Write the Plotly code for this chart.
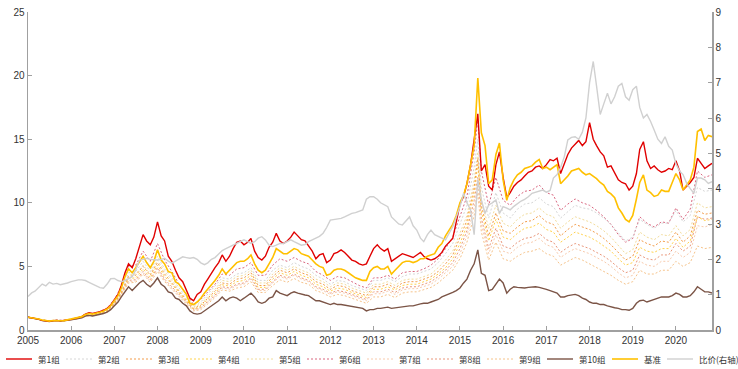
import pandas as pd
import plotly.graph_objects as go

# ---------------- data ----------------
months = pd.date_range("2005-01-01", "2020-11-01", freq="MS")          # 191 monthly points
dot_dates = sorted(list(pd.date_range("2005-01-01", "2020-11-01", freq="2MS")) + [pd.Timestamp("2015-06-01")])  # 97 points

g1 = [1.00, 0.97, 0.90, 0.86, 0.76, 0.72, 0.68, 0.74, 0.76, 0.72, 0.74, 0.80,
      0.84, 0.90, 0.95, 1.05, 1.25, 1.35, 1.30, 1.35, 1.45, 1.55, 1.70, 1.95,
      2.40, 2.80, 3.50, 4.50, 5.20, 4.90, 5.60, 6.60, 7.50, 7.00, 6.70, 7.30,
      8.50, 7.40, 7.00, 5.80, 5.40, 4.70, 4.10, 3.80, 3.20, 2.50, 2.30, 2.80,
      3.0, 3.6, 4.0, 4.5, 4.9, 5.3, 5.9, 5.4, 5.8, 6.4, 6.9, 7.0,
      6.7, 6.9, 7.2, 6.2, 5.7, 5.5, 5.8, 6.5, 6.9, 7.6, 7.0, 6.8,
      7.0, 7.3, 7.7, 7.4, 7.1, 7.0, 6.6, 6.2, 5.6, 5.9, 6.0, 5.3,
      5.5, 6.0, 6.1, 6.3, 6.1, 5.8, 5.5, 5.4, 5.2, 5.1, 5.2, 5.8,
      6.4, 6.7, 6.4, 6.2, 6.4, 5.4, 5.6, 5.8, 6.0, 5.9, 5.8, 5.7,
      5.9, 6.1, 5.8, 5.6, 5.5, 5.6, 5.8, 6.1, 6.6, 6.9, 7.2, 8.5,
      9.9, 10.5, 11.5, 13.0, 15.0, 17.0, 12.5, 13.0, 11.3, 11.0, 13.0, 14.0,
      12.0, 10.4, 10.8, 11.3, 11.6, 11.8, 12.1, 12.4, 12.5, 12.8, 12.9, 12.7,
      13.0, 13.4, 13.3, 13.5, 12.3, 13.0, 13.8, 14.3, 14.6, 14.9, 14.5, 14.8,
      16.3, 15.0, 14.5, 14.0, 13.7, 12.8, 12.9, 12.4, 11.8, 11.6, 11.5, 11.0,
      11.3, 12.3, 14.2, 14.8, 13.3, 12.7, 12.9, 12.6, 12.4, 12.5, 12.7, 12.6,
      13.3, 12.5, 11.0, 11.3, 11.6, 12.0, 13.5, 13.1, 12.7, 12.9, 13.1]

bench = [1.00, 0.97, 0.92, 0.87, 0.78, 0.74, 0.70, 0.75, 0.77, 0.73, 0.74, 0.80,
         0.85, 0.90, 0.95, 1.05, 1.22, 1.30, 1.25, 1.30, 1.40, 1.50, 1.65, 1.90,
         2.30, 2.70, 3.30, 4.20, 4.80, 4.50, 4.90, 5.40, 5.80, 5.30, 4.90, 5.40,
         6.30, 5.50, 5.20, 4.60, 4.50, 3.80, 3.60, 3.20, 2.80, 2.10, 2.00, 2.20,
         2.5, 2.9, 3.2, 3.5, 3.9, 4.3, 4.8, 4.4, 4.7, 5.0, 5.3, 5.4,
         5.4, 5.6, 5.9, 5.2, 4.7, 4.5, 4.7, 5.2, 5.7, 6.4, 6.2, 6.0,
         6.0, 6.2, 6.4, 6.3, 6.0, 5.9, 5.8, 5.5, 5.2, 5.0, 4.9, 4.3,
         4.4, 4.7, 4.8, 4.8, 4.7, 4.5, 4.3, 4.1, 4.0, 3.9, 3.9, 4.6,
         4.9, 5.0, 4.8, 4.8, 5.0, 4.4, 4.7, 5.0, 5.3, 5.4, 5.4, 5.3,
         5.4, 5.6, 5.6, 5.8, 5.9, 6.0, 6.5, 6.8, 7.4, 7.8, 8.3, 9.0,
         10.0, 10.6, 11.5, 13.0, 14.5, 19.8, 15.5, 14.5, 11.5, 11.8, 13.8, 14.7,
         11.8, 10.2, 11.2, 11.8, 12.2, 12.4, 12.7, 12.8, 12.9, 13.2, 13.4, 12.7,
         12.8, 12.6, 12.8, 13.0, 11.5, 11.8, 12.1, 12.5, 12.6, 12.7, 12.4, 12.2,
         12.3, 12.1, 11.9, 11.6, 11.4, 10.9, 10.7, 10.4, 9.6, 9.2, 8.7, 8.5,
         9.0, 10.3, 11.6, 12.2, 11.0, 10.8, 10.5, 10.6, 11.0, 10.9, 10.9, 11.6,
         12.3, 11.8, 11.0, 11.4, 11.8, 12.8, 15.6, 15.8, 14.9, 15.3, 15.2]

g10 = [1.00, 0.96, 0.90, 0.84, 0.74, 0.70, 0.66, 0.72, 0.74, 0.70, 0.71, 0.76,
       0.80, 0.85, 0.88, 0.96, 1.10, 1.15, 1.10, 1.15, 1.22, 1.30, 1.40, 1.60,
       1.90, 2.20, 2.60, 3.00, 3.40, 3.10, 3.40, 3.70, 3.90, 3.60, 3.40, 3.70,
       4.10, 3.60, 3.40, 3.00, 2.90, 2.50, 2.40, 2.10, 1.90, 1.50, 1.30, 1.25,
       1.3, 1.5, 1.7, 1.9, 2.1, 2.3, 2.6, 2.3, 2.5, 2.6, 2.5, 2.3,
       2.5, 2.7, 2.9, 2.6, 2.2, 2.1, 2.2, 2.5, 2.6, 3.1, 2.9, 2.8,
       2.7, 2.9, 3.0, 2.9, 2.8, 2.75, 2.7, 2.5, 2.3, 2.3, 2.2, 2.1,
       2.0, 2.1, 2.0, 2.0, 1.95, 1.85, 1.8, 1.75, 1.7, 1.7, 1.5, 1.6,
       1.6, 1.7, 1.7, 1.75, 1.8, 1.7, 1.75, 1.8, 1.85, 1.85, 1.9, 1.9,
       2.0, 2.05, 2.1, 2.1, 2.2, 2.3, 2.4, 2.6, 2.7, 2.8, 2.95, 3.1,
       3.3, 3.7, 4.0, 4.7, 5.2, 6.3, 4.45, 4.3, 3.1, 3.2, 3.6, 4.0,
       3.7, 2.9, 3.2, 3.4, 3.35, 3.3, 3.3, 3.35, 3.4, 3.4, 3.35, 3.3,
       3.2, 3.1, 3.0, 2.9, 2.6, 2.6, 2.7, 2.75, 2.8, 2.7, 2.5, 2.4,
       2.2, 2.1, 2.1, 2.0, 2.0, 1.9, 1.8, 1.75, 1.7, 1.6, 1.6, 1.55,
       1.7, 2.1, 2.3, 2.35, 2.2, 2.3, 2.4, 2.5, 2.6, 2.6, 2.6, 2.7,
       2.9, 2.8, 2.6, 2.6, 2.7, 3.0, 3.4, 3.2, 3.0, 3.0, 2.9]

ratio = [0.95, 1.05, 1.10, 1.20, 1.30, 1.25, 1.35, 1.30, 1.32, 1.28, 1.30, 1.33,
         1.37, 1.40, 1.42, 1.42, 1.40, 1.35, 1.30, 1.25, 1.20, 1.18, 1.30, 1.45,
         1.46, 1.40, 1.37, 1.40, 1.45, 1.51, 1.70, 1.98, 2.00, 2.03, 2.00, 1.98,
         1.98, 2.00, 2.03, 1.95, 1.89, 1.95, 2.00, 2.07, 2.05, 2.03, 2.05, 2.00,
         1.90, 1.85, 1.90, 2.00, 2.05, 2.15, 2.25, 2.30, 2.35, 2.40, 2.45, 2.50,
         2.55, 2.50, 2.45, 2.50, 2.60, 2.64, 2.55, 2.40, 2.36, 2.40, 2.45, 2.45,
         2.50, 2.55, 2.50, 2.45, 2.40, 2.42, 2.50, 2.55, 2.60, 2.65, 2.74, 2.90,
         3.11, 3.12, 3.15, 3.16, 3.20, 3.25, 3.30, 3.32, 3.35, 3.40, 3.70, 3.77,
         3.77, 3.70, 3.60, 3.55, 3.49, 3.20, 3.11, 3.00, 2.97, 3.10, 3.20, 2.95,
         2.83, 2.60, 2.50, 2.70, 2.83, 2.70, 2.64, 2.60, 2.55, 2.75, 2.92, 3.20,
         3.49, 3.87, 3.60, 3.40, 2.70, 4.25, 3.68, 3.30, 3.54, 3.60, 3.68, 3.30,
         3.49, 3.45, 3.40, 3.50, 3.58, 3.65, 3.70, 3.77, 3.87, 3.90, 3.93, 3.96,
         3.90, 3.95, 4.30, 4.40, 4.60, 4.90, 5.38, 5.45, 5.47, 5.40, 5.60, 6.00,
         7.00, 7.60, 6.90, 6.10, 6.40, 6.70, 6.40, 6.60, 6.90, 6.98, 6.60, 6.50,
         6.80, 6.90, 6.30, 6.00, 6.10, 5.90, 5.66, 5.40, 5.28, 5.47, 5.20, 5.09,
         4.70, 4.50, 4.40, 4.15, 4.00, 3.87, 4.30, 4.30, 4.25, 4.15, 4.20]

# dotted groups (bimonthly, plus June 2015)
g2 = [1.00, 0.93, 0.79, 0.71, 0.78, 0.75,
      0.85, 0.95, 1.20, 1.22, 1.36, 1.60,
      2.20, 3.10, 4.50, 4.60, 5.40, 4.60,
      5.80, 4.80, 4.10, 3.30, 2.60, 1.90,
      2.20, 2.80, 3.40, 4.10, 4.00, 4.40,
      4.50, 4.90, 3.90, 3.90, 4.70, 5.10,
      4.90, 5.30, 5.00, 4.80, 4.30, 4.00,
      3.60, 3.90, 3.80, 3.50, 3.30, 3.10,
      3.90, 3.90, 4.10, 3.80, 4.20, 4.40,
      4.40, 4.60, 4.80, 5.30, 6.00, 6.80,
      8.40, 9.80, 12.80, 15.00, 11.20, 8.80, 10.80,
      9.20, 8.80, 9.50, 9.90, 10.00, 10.40,
      9.90, 9.70, 8.80, 9.30, 9.80, 9.60,
      9.50, 9.20, 8.80, 8.30, 7.60, 7.00,
      7.30, 8.70, 8.30, 8.00, 8.40, 8.40,
      9.40, 8.50, 9.00, 11.20, 10.90, 11.00]

g3 = [1.00, 0.91, 0.77, 0.69, 0.76, 0.73,
      0.83, 0.92, 1.15, 1.17, 1.30, 1.52,
      2.10, 2.95, 4.20, 4.30, 5.00, 4.30,
      5.30, 4.40, 3.70, 3.00, 2.35, 1.70,
      1.95, 2.50, 3.05, 3.70, 3.60, 4.00,
      4.10, 4.50, 3.50, 3.50, 4.20, 4.70,
      4.50, 4.80, 4.50, 4.30, 3.80, 3.60,
      3.20, 3.50, 3.40, 3.10, 2.90, 2.70,
      3.40, 3.40, 3.60, 3.30, 3.70, 3.80,
      3.80, 4.00, 4.20, 4.60, 5.20, 5.90,
      7.20, 8.60, 11.20, 13.50, 9.80, 7.40, 9.20,
      7.80, 7.60, 8.10, 8.50, 8.60, 9.00,
      8.50, 8.30, 7.40, 7.90, 8.30, 8.10,
      7.90, 7.60, 7.20, 6.70, 6.10, 5.50,
      5.80, 7.10, 6.80, 6.60, 7.00, 6.90,
      7.70, 6.90, 7.40, 9.40, 9.10, 9.20]

g4 = [1.00, 0.91, 0.77, 0.69, 0.76, 0.73,
      0.82, 0.91, 1.14, 1.15, 1.28, 1.50,
      2.05, 2.90, 4.05, 4.10, 4.80, 4.10,
      5.10, 4.20, 3.60, 2.90, 2.25, 1.65,
      1.85, 2.40, 2.90, 3.55, 3.45, 3.80,
      3.90, 4.30, 3.35, 3.35, 4.00, 4.50,
      4.30, 4.60, 4.30, 4.10, 3.60, 3.40,
      3.05, 3.30, 3.20, 2.95, 2.75, 2.55,
      3.20, 3.20, 3.40, 3.15, 3.50, 3.60,
      3.60, 3.80, 4.00, 4.40, 4.90, 5.60,
      6.80, 8.20, 10.80, 13.00, 9.30, 7.00, 8.70,
      7.30, 7.10, 7.60, 8.00, 8.10, 8.40,
      7.90, 7.70, 6.90, 7.30, 7.70, 7.50,
      7.30, 7.00, 6.60, 6.20, 5.60, 5.10,
      5.30, 6.50, 6.20, 6.10, 6.40, 6.40,
      7.20, 6.50, 7.00, 8.90, 8.60, 8.70]

g5 = [1.00, 0.92, 0.78, 0.70, 0.77, 0.74,
      0.84, 0.93, 1.17, 1.19, 1.32, 1.55,
      2.15, 3.00, 4.30, 4.40, 5.10, 4.40,
      5.50, 4.60, 3.90, 3.10, 2.45, 1.80,
      2.05, 2.60, 3.20, 3.90, 3.80, 4.20,
      4.30, 4.70, 3.70, 3.70, 4.40, 4.90,
      4.70, 5.00, 4.70, 4.50, 4.00, 3.80,
      3.40, 3.70, 3.60, 3.30, 3.10, 2.90,
      3.60, 3.60, 3.80, 3.50, 3.90, 4.00,
      4.00, 4.20, 4.40, 4.90, 5.50, 6.20,
      7.60, 9.00, 11.80, 14.00, 10.20, 8.00, 9.80,
      8.40, 8.10, 8.70, 9.10, 9.20, 9.60,
      9.10, 8.90, 8.00, 8.50, 8.90, 8.70,
      8.50, 8.20, 7.80, 7.30, 6.60, 6.00,
      6.30, 7.70, 7.30, 7.10, 7.50, 7.40,
      8.20, 7.40, 7.90, 10.00, 9.60, 9.70]

g6 = [1.00, 0.93, 0.80, 0.72, 0.79, 0.76,
      0.86, 0.97, 1.25, 1.28, 1.45, 1.72,
      2.40, 3.40, 5.00, 5.10, 6.20, 5.40,
      6.80, 5.50, 4.60, 3.60, 2.80, 2.00,
      2.40, 3.00, 3.60, 4.40, 4.30, 4.80,
      4.90, 5.30, 4.30, 4.30, 5.10, 5.60,
      5.40, 5.70, 5.40, 5.20, 4.60, 4.30,
      3.90, 4.20, 4.10, 3.80, 3.50, 3.30,
      4.10, 4.10, 4.30, 4.00, 4.50, 4.60,
      4.60, 4.80, 5.10, 5.60, 6.40, 7.30,
      9.00, 10.50, 14.00, 16.50, 12.50, 9.80, 12.00,
      10.20, 9.80, 10.50, 10.90, 11.00, 11.40,
      10.80, 10.60, 9.40, 9.90, 10.30, 10.00,
      9.80, 9.40, 8.90, 8.30, 7.50, 6.90,
      7.20, 8.90, 8.40, 8.10, 8.50, 8.40,
      9.60, 8.70, 9.50, 12.50, 12.00, 12.20]

g7 = [1.00, 0.91, 0.76, 0.68, 0.75, 0.72,
      0.81, 0.89, 1.12, 1.13, 1.25, 1.45,
      1.98, 2.80, 3.80, 3.85, 4.50, 3.85,
      4.80, 3.90, 3.30, 2.70, 2.10, 1.55,
      1.70, 2.15, 2.65, 3.30, 3.20, 3.50,
      3.60, 4.00, 3.10, 3.10, 3.70, 4.20,
      4.00, 4.30, 4.00, 3.80, 3.30, 3.10,
      2.80, 3.00, 2.90, 2.70, 2.50, 2.30,
      2.85, 2.85, 3.05, 2.80, 3.15, 3.25,
      3.25, 3.45, 3.60, 4.00, 4.50, 5.00,
      6.00, 7.40, 9.60, 11.50, 8.30, 6.00, 7.50,
      6.20, 6.00, 6.50, 6.80, 6.90, 7.20,
      6.70, 6.50, 5.70, 6.10, 6.40, 6.20,
      6.00, 5.70, 5.40, 5.00, 4.50, 4.10,
      4.30, 5.40, 5.10, 5.00, 5.40, 5.40,
      6.20, 5.70, 6.10, 8.20, 8.10, 8.30]

g8 = [1.00, 0.91, 0.76, 0.68, 0.75, 0.72,
      0.82, 0.90, 1.13, 1.14, 1.26, 1.47,
      2.00, 2.85, 3.90, 3.95, 4.60, 3.95,
      4.90, 4.00, 3.40, 2.80, 2.15, 1.60,
      1.75, 2.25, 2.75, 3.40, 3.30, 3.60,
      3.70, 4.10, 3.20, 3.20, 3.80, 4.30,
      4.10, 4.40, 4.10, 3.90, 3.40, 3.20,
      2.90, 3.10, 3.00, 2.80, 2.60, 2.40,
      3.00, 3.00, 3.20, 2.95, 3.30, 3.40,
      3.40, 3.60, 3.80, 4.20, 4.70, 5.30,
      6.40, 7.80, 10.20, 12.00, 8.80, 6.40, 8.00,
      6.60, 6.40, 6.90, 7.20, 7.30, 7.60,
      7.10, 6.90, 6.10, 6.50, 6.80, 6.60,
      6.40, 6.10, 5.80, 5.40, 4.90, 4.50,
      4.70, 5.90, 5.60, 5.50, 5.90, 5.90,
      6.80, 6.20, 6.60, 8.90, 8.70, 8.80]

g9 = [1.00, 0.90, 0.75, 0.67, 0.75, 0.72,
      0.81, 0.89, 1.11, 1.12, 1.24, 1.43,
      1.95, 2.75, 3.70, 3.75, 4.40, 3.75,
      4.60, 3.80, 3.20, 2.60, 2.05, 1.50,
      1.60, 2.05, 2.55, 3.15, 3.05, 3.30,
      3.40, 3.80, 2.95, 2.95, 3.50, 3.95,
      3.75, 4.05, 3.75, 3.60, 3.10, 2.90,
      2.60, 2.80, 2.70, 2.50, 2.30, 2.10,
      2.60, 2.60, 2.80, 2.55, 2.90, 3.00,
      3.00, 3.20, 3.35, 3.70, 4.20, 4.70,
      5.60, 6.90, 9.00, 10.80, 7.70, 5.50, 6.90,
      5.60, 5.40, 5.80, 6.10, 6.20, 6.40,
      6.00, 5.80, 5.10, 5.40, 5.70, 5.50,
      5.20, 4.90, 4.60, 4.30, 3.90, 3.60,
      3.80, 4.70, 4.40, 4.40, 4.70, 4.70,
      5.40, 5.00, 5.30, 6.60, 6.40, 6.50]

left_ticks = [0, 5, 10, 15, 20, 25]
right_ticks = [0, 1, 2, 3, 4, 5, 6, 7, 8, 9]
legend_names = ["第1组", "第2组", "第3组", "第4组", "第5组", "第6组",
                "第7组", "第8组", "第9组", "第10组", "基准", "比价(右轴)"]

# ---------------- styles ----------------
W, H = 738, 369
ML, MR, MT, MB = 28, 26, 12, 39
PW, PH = W - ML - MR, H - MT - MB
DOT = "2px,2px"
styles = {
    "第1组": dict(color="#E00000", width=1.4, dash="solid"),
    "第2组": dict(color="#D6D6D6", width=1, dash=DOT),
    "第3组": dict(color="#F39C4A", width=1, dash=DOT),
    "第4组": dict(color="#FFD24D", width=1, dash=DOT),
    "第5组": dict(color="#F2DC9B", width=1, dash=DOT),
    "第6组": dict(color="#D9667F", width=1, dash=DOT),
    "第7组": dict(color="#F8CBAD", width=1, dash=DOT),
    "第8组": dict(color="#E9967A", width=1, dash=DOT),
    "第9组": dict(color="#F6C38A", width=1, dash=DOT),
    "第10组": dict(color="#7B5446", width=1.4, dash="solid"),
    "基准": dict(color="#FFC000", width=1.6, dash="solid"),
    "比价(右轴)": dict(color="#D0D0D0", width=1.4, dash="solid"),
}

fig = go.Figure()
for name, vals in [("第9组", g9), ("第8组", g8), ("第7组", g7), ("第6组", g6),
                   ("第5组", g5), ("第4组", g4), ("第3组", g3), ("第2组", g2)]:
    fig.add_trace(go.Scatter(x=dot_dates, y=vals, name=name, mode="lines",
                             line=styles[name], yaxis="y"))
fig.add_trace(go.Scatter(x=months, y=g10, name="第10组", mode="lines", line=styles["第10组"], yaxis="y"))
fig.add_trace(go.Scatter(x=months, y=ratio, name="比价(右轴)", mode="lines", line=styles["比价(右轴)"], yaxis="y2"))
fig.add_trace(go.Scatter(x=months, y=g1, name="第1组", mode="lines", line=styles["第1组"], yaxis="y"))
fig.add_trace(go.Scatter(x=months, y=bench, name="基准", mode="lines", line=styles["基准"], yaxis="y"))

# ---------------- manual legend (one row, like the reference) ----------------
legend_text_px = [37, 97, 157, 217, 278, 338, 398, 458, 518, 578, 643, 698]
legend_y_px = 359
ly = (H - MB - legend_y_px) / PH
shapes, annos = [], []
for name, tx in zip(legend_names, legend_text_px):
    st = styles[name]
    x0 = (tx - 31 - ML) / PW
    x1 = (tx - 5 - ML) / PW
    shapes.append(dict(type="line", xref="paper", yref="paper", x0=x0, x1=x1, y0=ly, y1=ly,
                       line=dict(color=st["color"], width=max(st["width"], 1.2) if st["dash"] == "solid" else 1,
                                 dash=st["dash"])))
    annos.append(dict(xref="paper", yref="paper", x=(tx - ML) / PW, y=ly, text=name,
                      showarrow=False, xanchor="left", yanchor="middle", borderpad=0,
                      font=dict(family="Noto Sans CJK SC, sans-serif", size=8.5, color="#333333")))

axis_col = "#A0A0A0"
tick_font = dict(family="Liberation Sans, Arial, sans-serif", size=10, color="#333333")

fig.update_layout(
    width=W, height=H,
    margin=dict(l=ML, r=MR, t=MT, b=MB, autoexpand=False),
    paper_bgcolor="white", plot_bgcolor="white",
    showlegend=False,
    shapes=shapes, annotations=annos,
    xaxis=dict(type="date", range=[months[0], months[-1]], automargin=False,
               tickmode="linear", tick0="2005-01-01", dtick="M12", tickformat="%Y",
               showline=True, linecolor=axis_col, linewidth=1.5,
               ticks="inside", ticklen=4, tickcolor=axis_col,
               showgrid=False, zeroline=False, tickfont=tick_font),
    yaxis=dict(range=[0, 25], tickvals=left_ticks, automargin=False,
               showline=True, linecolor=axis_col, linewidth=1.5,
               ticks="inside", ticklen=4, tickcolor=axis_col,
               showgrid=False, zeroline=False, tickfont=tick_font),
    yaxis2=dict(range=[0, 9], tickvals=right_ticks, overlaying="y", side="right", automargin=False,
                showline=True, linecolor=axis_col, linewidth=1.5,
                ticks="inside", ticklen=4, tickcolor=axis_col,
                showgrid=False, zeroline=False, tickfont=tick_font),
    hovermode=False,
)

fig.write_html("out.html", config={"displayModeBar": False, "staticPlot": True},
               post_script="document.body.style.margin='0px';document.body.style.overflow='hidden';")
